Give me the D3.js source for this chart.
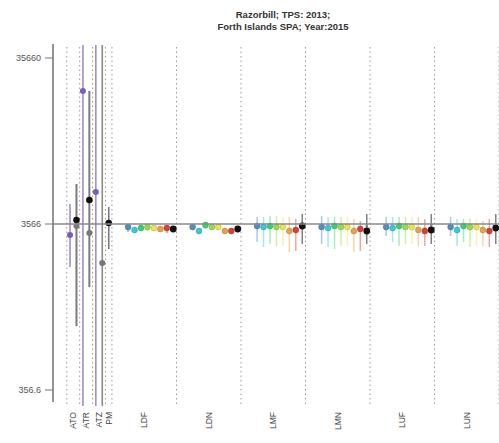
<!DOCTYPE html>
<html>
<head>
<meta charset="utf-8">
<script src="https://cdn.jsdelivr.net/npm/d3@7"></script>
<style>
  body { margin: 0; background: #fff; }
  svg { font-family: "Liberation Sans", Arial, sans-serif; }
</style>
</head>
<body>
<svg id="chart" width="499" height="443"></svg>
<script>
// categories along x, number of slots each
var leftCats = ["ATO", "ATR", "ATZ", "PM"];
var leftSlots = [2, 2, 2, 1];
var rightCats = ["LDF", "LDN", "LMF", "LMN", "LUF", "LUN"];
var yTicks = [356.6, 3566, 35660];
var refValue = 3566;

// left groups: slot, estimate, lower, upper
var purpleSlot = [0, 2, 4];
var purpleVal = [3061, 22570, 5559];
var purpleLo = [1964, 10, 10];
var purpleHi = [4706, 1e6, 1e6];

var darkSlot = [1, 3, 6];
var darkVal = [3770, 4975, 3617];
var darkLo = [866, 1488, 2521];
var darkHi = [6212, 22570, 4515];

var greySlot = [1, 3, 5];
var greyVal = [3468, 3147, 2075];
var greyLo = [866, 1488, 10];
var greyHi = [6212, 22570, 1e6];

// right groups: 7 coloured series + overall (black), one value per group
var seriesColors = ["#4f8fc4", "#3fc6d6", "#3ccf6a", "#9ad94a", "#efe05a", "#e8a055", "#d0443f", "#111111"];
var barColors = ["#a6cbe8", "#a0e8f0", "#a6eebb", "#d0f0a4", "#f8f2b4", "#f6d4a8", "#eea6a2", "#808080"];

var est = [
  [3420, 3281, 3373, 3420, 3373, 3327, 3373, 3327],
  [3420, 3236, 3517, 3420, 3420, 3236, 3236, 3327],
  [3468, 3420, 3468, 3420, 3420, 3236, 3281, 3468],
  [3420, 3373, 3468, 3420, 3420, 3236, 3327, 3236],
  [3420, 3373, 3468, 3420, 3420, 3281, 3236, 3281],
  [3420, 3281, 3468, 3420, 3420, 3281, 3236, 3373]
];
var lo = [
  [3281, 3191, 3236, 3281, 3236, 3191, 3191, 3236],
  [3281, 3191, 3373, 3281, 3281, 3191, 3191, 3236],
  [2778, 2592, 2702, 2628, 2628, 2418, 2452, 2702],
  [2702, 2592, 2521, 2628, 2628, 2418, 2452, 2702],
  [3019, 2778, 2628, 2702, 2702, 2628, 2628, 2702],
  [3019, 2628, 2778, 2592, 2628, 2628, 2592, 2702]
];
var hi = [
  [3517, 3420, 3517, 3517, 3517, 3468, 3468, 3420],
  [3517, 3327, 3566, 3517, 3517, 3327, 3327, 3420],
  [3930, 3930, 3985, 3985, 3930, 3930, 3822, 4098],
  [3985, 3930, 3930, 3930, 3930, 3822, 3718, 4098],
  [3930, 3930, 3930, 3930, 3930, 3930, 3822, 4098],
  [3930, 3822, 3822, 3822, 3822, 3718, 3822, 4098]
];
var dataLo = [
  [3236, 3373, 3327, 3281, 3327, 3236, 3191, 3373],
  [3373, 3281, 3373, 3373, 3373, 3281, 3281, 3373],
  [3373, 3373, 3517, 3468, 3420, 3373, 3327, 3517],
  [3420, 3373, 3468, 3420, 3373, 3236, 3281, 3468],
  [3420, 3281, 3468, 3420, 3420, 3281, 3373, 3517],
  [3327, 3236, 3373, 3327, 3327, 3236, 3236, 3373]
];

var svg = d3.select("#chart");
var nSlots = 7 + rightCats.length * 10;

var x = d3.scaleLinear().domain([0, nSlots]).range([66.8, 499]);
var y = d3.scaleLog().domain([356.6, 35660]).range([390, 58]);

var plotTop = 47, plotBottom = 404;

// vertical dotted separators
var seps = [0, 2, 4, 6, 7];
rightCats.forEach(function (c, i) { seps.push(17 + i * 10); });
svg.append("g").selectAll("line").data(seps).enter().append("line")
  .attr("x1", function (d) { return x(d); }).attr("x2", function (d) { return x(d); })
  .attr("y1", plotTop).attr("y2", plotBottom)
  .attr("stroke", "#999").attr("stroke-width", 1).attr("stroke-dasharray", "1.5,3");

svg.append("clipPath").attr("id", "clip").append("rect")
  .attr("x", 54).attr("y", plotTop - 2).attr("width", 445).attr("height", plotBottom - plotTop + 4);
var plot = svg.append("g").attr("clip-path", "url(#clip)");

function cx(slot) { return x(slot + 0.5); }

// left region bars
function leftSeries(slots, vals, los, his, bar, fill, r) {
  plot.append("g").selectAll("line").data(slots).enter().append("line")
    .attr("x1", function (d) { return cx(d); }).attr("x2", function (d) { return cx(d); })
    .attr("y1", function (d, i) { return y(his[i]); })
    .attr("y2", function (d, i) { return y(los[i]); })
    .attr("stroke", bar).attr("stroke-width", 1.6);
  plot.append("g").selectAll("circle").data(slots).enter().append("circle")
    .attr("cx", function (d) { return cx(d); })
    .attr("cy", function (d, i) { return y(vals[i]); })
    .attr("r", r).attr("fill", fill);
}
leftSeries(purpleSlot, purpleVal, purpleLo, purpleHi, "#a48ccf", "#7a5cc0", 3);
leftSeries(greySlot, greyVal, greyLo, greyHi, "#8a8a8a", "#777", 3);
leftSeries(darkSlot, darkVal, darkLo, darkHi, "#7a7a7a", "#111", 3.3);

// reference line
svg.append("line")
  .attr("x1", 53).attr("x2", 499).attr("y1", y(refValue)).attr("y2", y(refValue))
  .attr("stroke", "#8a8a8a").attr("stroke-width", 1.6);

// right groups
rightCats.forEach(function (cat, g) {
  var start = 7 + g * 10;
  var grp = plot.append("g");
  var idx = d3.range(8);
  grp.selectAll("line.ci").data(idx).enter().append("line")
    .attr("x1", function (k) { return cx(start + 2 + k); })
    .attr("x2", function (k) { return cx(start + 2 + k); })
    .attr("y1", function (k) { return y(hi[g][k]); })
    .attr("y2", function (k) { return y(lo[g][k]); })
    .attr("stroke", function (k) { return barColors[k]; })
    .attr("stroke-width", 1.5);
  grp.selectAll("circle.lo").data(idx).enter().append("circle")
    .attr("cx", function (k) { return cx(start + 2 + k); })
    .attr("cy", function (k) { return y(dataLo[g][k]); })
    .attr("r", 1.3)
    .attr("fill", function (k) { return barColors[k]; });
  grp.selectAll("circle.est").data(idx).enter().append("circle")
    .attr("cx", function (k) { return cx(start + 2 + k); })
    .attr("cy", function (k) { return y(est[g][k]); })
    .attr("r", function (k) { return k === 7 ? 3.4 : 2.9; })
    .attr("fill", function (k) { return seriesColors[k]; })
    .attr("stroke", function (k) { return k === 7 ? "none" : d3.color(seriesColors[k]).darker(0.6); })
    .attr("stroke-width", 0.6);
});

// y axis
svg.append("line").attr("x1", 53).attr("x2", 53).attr("y1", 44).attr("y2", 402)
  .attr("stroke", "#888").attr("stroke-width", 1.8);
var yt = svg.append("g").selectAll("g").data(yTicks).enter().append("g");
yt.append("line").attr("x1", 45).attr("x2", 53)
  .attr("y1", function (d) { return y(d); }).attr("y2", function (d) { return y(d); })
  .attr("stroke", "#777").attr("stroke-width", 1);
yt.append("text").attr("x", 41).attr("y", function (d) { return y(d) + 3; })
  .attr("text-anchor", "end").attr("font-size", 9).attr("fill", "#555")
  .text(function (d) { return d; });

// x labels
var labelPos = [];
var s = 0;
leftCats.forEach(function (c, i) { labelPos.push({ t: c, m: s + leftSlots[i] / 2 }); s += leftSlots[i]; });
rightCats.forEach(function (c, i) { labelPos.push({ t: c, m: 7 + i * 10 + 5 }); });
svg.append("g").selectAll("text").data(labelPos).enter().append("text")
  .attr("transform", function (d) { return "translate(" + (x(d.m) + 3) + ",412) rotate(-90)"; })
  .attr("text-anchor", "end").attr("font-size", 8.5).attr("fill", "#444")
  .text(function (d) { return d.t; });

// title
var title = ["Razorbill; TPS: 2013;", "Forth Islands SPA; Year:2015"];
svg.append("g").selectAll("text").data(title).enter().append("text")
  .attr("x", 283).attr("y", function (d, i) { return 18 + i * 12; })
  .attr("text-anchor", "middle").attr("font-size", 9.5).attr("font-weight", "bold").attr("fill", "#333")
  .text(function (d) { return d; });
</script>
</body>
</html>
